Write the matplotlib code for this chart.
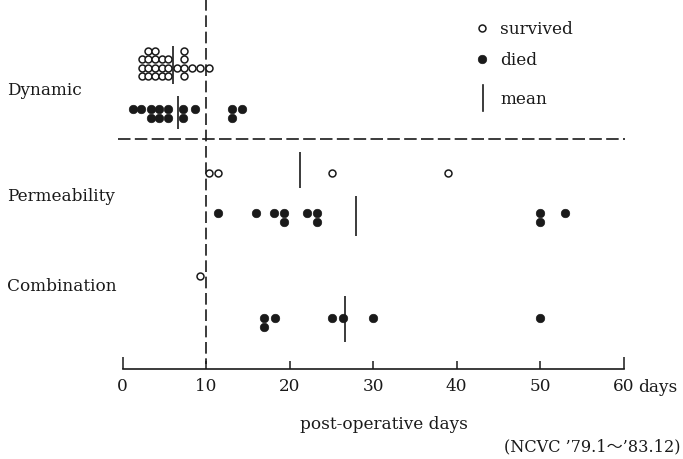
import matplotlib
matplotlib.use('Agg')
import matplotlib.pyplot as plt
from matplotlib.ticker import FixedLocator, FixedFormatter

# ---------------- data ----------------
groups = ['Dynamic', 'Permeability', 'Combination']
dyn_survived = [2.3] * 3 + [3.1] * 4 + [3.9] * 4 + [4.7] * 3 + [5.5] * 3 + [6.5] + [7.4] * 4 + [8.3, 9.3, 10.3]
dyn_died = [1.3, 2.2, 3.4, 3.4, 4.4, 4.4, 5.5, 5.5, 7.3, 7.3, 8.7, 13.1, 13.1, 14.3]
perm_survived = [10.3, 11.4, 25.1, 39.0]
perm_died = [11.4, 16.0, 18.1, 19.3, 19.3, 22.1, 23.3, 23.3, 50.0, 50.0, 53.0]
comb_survived = [9.3]
comb_died = [17.0, 17.0, 18.3, 25.1, 26.4, 30.0, 50.0]
mean_survived = [6.0, 21.3, None]
mean_died = [6.7, 28.0, 26.6]
major_ticks = [0, 60]
minor_ticks = [10, 20, 30, 40, 50]
cutoff_day = 10
legend_labels = ['survived', 'died', 'mean']
xlabel = 'post-operative days'
source_note = '(NCVC \u201979.1\uff5e\u201983.12)'

# ---------------- layout (pixel rows) ----------------
W, H = 683, 460
surv_base = [68.5, 173.5, 276.5]
died_base = [110, 214, 318.5]
surv_offsets = [0, -8.5, 8.5, -17]
died_offsets = [0, 9]
surv_spans = [(47, 85), (153, 189), None]
died_spans = [(97, 130), (197, 237), (297, 343)]
label_y = [95, 201, 291]
axis_y = 370

FONT = ['DejaVu Serif', 'Noto Sans CJK JP']
plt.rcParams['font.family'] = FONT
FS = 12.2
INK = '#1a1a1a'

fig = plt.figure(figsize=(W / 100, H / 100), dpi=100)
fig.patch.set_facecolor('white')

x0_px, x60_px = 122.5, 623.5
ax = fig.add_axes([x0_px / W, (H - axis_y) / H, (x60_px - x0_px) / W, axis_y / H])
ax.set_xlim(0, 60)
ax.set_ylim(axis_y, 0)
ax.patch.set_alpha(0)
for s in ['top', 'left', 'right']:
    ax.spines[s].set_visible(False)
ax.spines['bottom'].set_linewidth(1.2)
ax.spines['bottom'].set_color(INK)
ax.yaxis.set_visible(False)
ax.xaxis.set_major_locator(FixedLocator(major_ticks))
ax.xaxis.set_major_formatter(FixedFormatter([str(t) for t in major_ticks]))
ax.xaxis.set_minor_locator(FixedLocator(minor_ticks))
ax.xaxis.set_minor_formatter(FixedFormatter([str(t) for t in minor_ticks]))
ax.tick_params(axis='x', which='major', direction='in', length=8.6, width=1.1,
               colors=INK, labelsize=FS, pad=6)
ax.tick_params(axis='x', which='minor', direction='in', length=5.8, width=1.1,
               colors=INK, labelsize=FS, pad=6)


def stack(values, base, offsets):
    seen = {}
    ys = []
    for v in values:
        k = seen.get(v, 0)
        seen[v] = k + 1
        ys.append(base + offsets[min(k, len(offsets) - 1)])
    return ys


open_kw = dict(marker='o', linestyle='none', markersize=5.0, markerfacecolor='white',
               markeredgecolor=INK, markeredgewidth=1.1, zorder=3)
fill_kw = dict(marker='o', linestyle='none', markersize=6.1, markerfacecolor=INK,
               markeredgecolor=INK, markeredgewidth=0.5, zorder=3)

survived = [dyn_survived, perm_survived, comb_survived]
died = [dyn_died, perm_died, comb_died]
for i in range(3):
    ax.plot(survived[i], stack(survived[i], surv_base[i], surv_offsets), **open_kw)
    ax.plot(died[i], stack(died[i], died_base[i], died_offsets), **fill_kw)
    if mean_survived[i] is not None:
        ax.vlines(mean_survived[i], *surv_spans[i], color=INK, lw=1.2, zorder=4)
    if mean_died[i] is not None:
        ax.vlines(mean_died[i], *died_spans[i], color=INK, lw=1.2, zorder=4)

# dashed reference lines
ax.plot([cutoff_day, cutoff_day], [0, 365], color=INK, lw=1.2, dashes=(7, 2.8),
        clip_on=False, zorder=2)
ax.plot([-0.5, 60.2], [140, 140], color=INK, lw=1.2, dashes=(7.5, 2.6),
        clip_on=False, zorder=2)

# overlay axes in pixel units for texts
pax = fig.add_axes([0, 0, 1, 1])
pax.set_xlim(0, W)
pax.set_ylim(H, 0)
pax.axis('off')
pax.patch.set_alpha(0)

for name, y in zip(groups, label_y):
    pax.text(7, y, name, fontsize=FS, va='baseline', ha='left', color=INK)

# legend
pax.plot([482], [29], **open_kw)
pax.text(500, 34, legend_labels[0], fontsize=FS, va='baseline', ha='left', color=INK)
pax.plot([482], [60], **fill_kw)
pax.text(500, 65, legend_labels[1], fontsize=FS, va='baseline', ha='left', color=INK)
pax.plot([483, 483], [86, 112], color=INK, lw=1.2)
pax.text(500, 104, legend_labels[2], fontsize=FS, va='baseline', ha='left', color=INK)

# axis texts
pax.text(638, 392.5, 'days', fontsize=FS, va='baseline', ha='left', color=INK)
pax.text(384, 429, xlabel, fontsize=FS, va='baseline', ha='center', color=INK)
pax.text(681, 451, source_note, fontsize=FS - 0.6, va='baseline', ha='right', color=INK)

fig.savefig('out.png', dpi=100, facecolor='white')
